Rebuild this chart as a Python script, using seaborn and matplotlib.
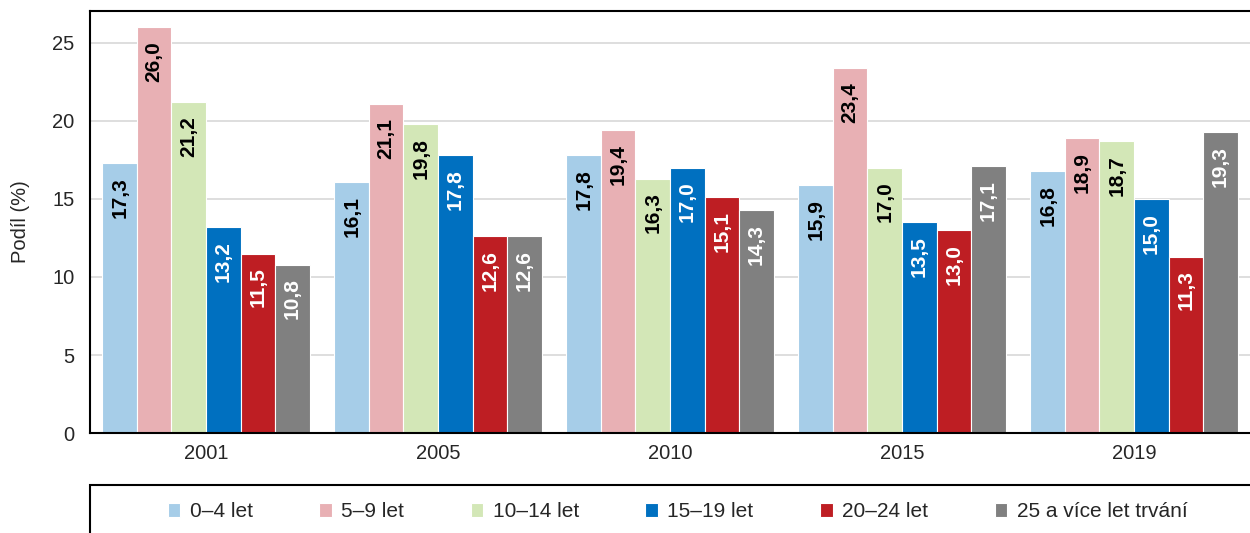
import pandas as pd
import numpy as np
import matplotlib
matplotlib.use('Agg')
import matplotlib.pyplot as plt
import seaborn as sns
from matplotlib.patches import Rectangle

# ================= data =================
roky = ['2001', '2005', '2010', '2015', '2019']
skupiny = ['0–4 let', '5–9 let', '10–14 let', '15–19 let', '20–24 let', '25 a více let trvání']
barvy = ['#a6cde8', '#e8b0b4', '#d3e7b7', '#0070c0', '#be1e23', '#808080']
barva_textu = ['black', 'black', 'black', 'white', 'white', 'white']

podil_0_4 = [17.3, 16.1, 17.8, 15.9, 16.8]
podil_5_9 = [26.0, 21.1, 19.4, 23.4, 18.9]
podil_10_14 = [21.2, 19.8, 16.3, 17.0, 18.7]
podil_15_19 = [13.2, 17.8, 17.0, 13.5, 15.0]
podil_20_24 = [11.5, 12.6, 15.1, 13.0, 11.3]
podil_25 = [10.8, 12.6, 14.3, 17.1, 19.3]
# ========================================

sns.set_style('white')
plt.rcParams['font.family'] = ['Liberation Sans', 'DejaVu Sans']

serie = [podil_0_4, podil_5_9, podil_10_14, podil_15_19, podil_20_24, podil_25]
rows = []
for sk, hodnoty in zip(skupiny, serie):
    for rok, h in zip(roky, hodnoty):
        rows.append({'Rok': rok, 'Skupina': sk, 'Podil': h})
df = pd.DataFrame(rows)

fig = plt.figure(figsize=(12.5, 5.33), dpi=100)
ax = fig.add_axes([0.072, 0.1876, 0.928, 0.7918])

sns.barplot(data=df, x='Rok', y='Podil', hue='Skupina', order=roky, hue_order=skupiny,
            palette=barvy, width=0.893, gap=0, edgecolor='white', linewidth=0.8,
            saturation=1, ax=ax)

# popisky hodnot uvnitř sloupců
for cont, tc in zip(ax.containers, barva_textu):
    for bar in cont:
        h = bar.get_height()
        ax.annotate(f'{h:.1f}'.replace('.', ','),
                    (bar.get_x() + bar.get_width() / 2, h),
                    xytext=(0, -10), textcoords='offset points',
                    rotation=90, ha='center', va='top',
                    fontsize=15, fontweight='bold', color=tc)

ax.set_ylim(0, 27.05)
ax.set_yticks([0, 5, 10, 15, 20, 25])
ax.yaxis.grid(True, color='#d4d4d4', linewidth=1.1)
ax.set_axisbelow(True)
ax.set_ylabel('Podíl (%)', fontsize=14.5, labelpad=16)
ax.set_xlabel('')

ax.set_xlim(-0.5, 4.5)
ax.set_xticks(np.arange(-0.5, 5, 1))
ax.set_xticklabels([])
ax.set_xticks(range(len(roky)), minor=True)
ax.set_xticklabels(roky, minor=True, fontsize=14.5)
ax.tick_params(axis='x', which='major', direction='out', length=6, width=1.3, color='black')
ax.tick_params(axis='x', which='minor', length=0, pad=8)
ax.tick_params(axis='y', direction='out', length=5, width=1.3, color='black', labelsize=14.5, pad=6)

for s in ['left', 'bottom', 'top']:
    ax.spines[s].set_color('black')
    ax.spines[s].set_linewidth(1.5)
ax.spines['right'].set_visible(False)

handles, labels = ax.get_legend_handles_labels()
ax.get_legend().remove()
fig.legend(handles, labels, ncol=6, loc='center', bbox_to_anchor=(0.542, 0.04),
           frameon=False, fontsize=15, handlelength=0.6, handleheight=0.7,
           handletextpad=0.45, columnspacing=3.2)

fig.patches.append(Rectangle((0.072, -0.1), 0.94, 0.19, transform=fig.transFigure,
                             fill=False, edgecolor='black', linewidth=1.5))

fig.savefig('out.png', dpi=100)
